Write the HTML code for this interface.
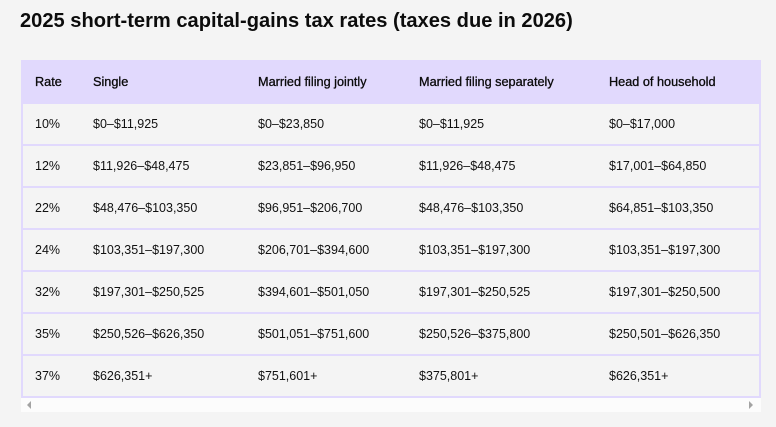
<!DOCTYPE html>
<html><head><meta charset="utf-8"><style>
*{margin:0;padding:0;box-sizing:border-box}
html,body{width:776px;height:427px;background:#f4f4f4;overflow:hidden;font-family:"Liberation Sans",Arial,sans-serif;color:#111}
.title{position:absolute;left:20px;top:8px;font-size:20.1px;font-weight:bold;line-height:26px;white-space:nowrap;color:#0c0c0c}
.hdr{position:absolute;left:21px;top:60px;width:740px;height:44px;background:#e1d9fd}
.body{position:absolute;left:21px;top:104px;width:740px;height:294px;border-left:2px solid #e1d9fd;border-right:2px solid #e1d9fd}
.row{position:absolute;left:0;width:736px;height:42px;border-bottom:2px solid #e1d9fd}
.c{position:absolute;white-space:nowrap;font-size:12.5px;line-height:40px}
.h .c{line-height:44px;font-size:12.7px;color:#0a0a0a;-webkit-text-stroke:0.3px #0a0a0a}
.sb{position:absolute;left:21px;top:398px;width:740px;height:14px;background:#fcfcfc}
.al{position:absolute;left:6px;top:3px;width:0;height:0;border-top:4px solid transparent;border-bottom:4px solid transparent;border-right:4px solid #a3a3a3}
.ar{position:absolute;right:8px;top:3px;width:0;height:0;border-top:4px solid transparent;border-bottom:4px solid transparent;border-left:4px solid #a3a3a3}
</style></head><body>
<div class="title">2025 short-term capital-gains tax rates (taxes due in 2026)</div>
<div class="hdr h">
<div class="c" style="left:14px">Rate</div>
<div class="c" style="left:72px">Single</div>
<div class="c" style="left:237px">Married filing jointly</div>
<div class="c" style="left:398px">Married filing separately</div>
<div class="c" style="left:588px">Head of household</div>
</div>
<div class="body">
<div class="row" style="top:0">
<div class="c" style="left:12px">10%</div><div class="c" style="left:70px">$0–$11,925</div><div class="c" style="left:235px">$0–$23,850</div><div class="c" style="left:396px">$0–$11,925</div><div class="c" style="left:586px">$0–$17,000</div></div>
<div class="row" style="top:42px">
<div class="c" style="left:12px">12%</div><div class="c" style="left:70px">$11,926–$48,475</div><div class="c" style="left:235px">$23,851–$96,950</div><div class="c" style="left:396px">$11,926–$48,475</div><div class="c" style="left:586px">$17,001–$64,850</div></div>
<div class="row" style="top:84px">
<div class="c" style="left:12px">22%</div><div class="c" style="left:70px">$48,476–$103,350</div><div class="c" style="left:235px">$96,951–$206,700</div><div class="c" style="left:396px">$48,476–$103,350</div><div class="c" style="left:586px">$64,851–$103,350</div></div>
<div class="row" style="top:126px">
<div class="c" style="left:12px">24%</div><div class="c" style="left:70px">$103,351–$197,300</div><div class="c" style="left:235px">$206,701–$394,600</div><div class="c" style="left:396px">$103,351–$197,300</div><div class="c" style="left:586px">$103,351–$197,300</div></div>
<div class="row" style="top:168px">
<div class="c" style="left:12px">32%</div><div class="c" style="left:70px">$197,301–$250,525</div><div class="c" style="left:235px">$394,601–$501,050</div><div class="c" style="left:396px">$197,301–$250,525</div><div class="c" style="left:586px">$197,301–$250,500</div></div>
<div class="row" style="top:210px">
<div class="c" style="left:12px">35%</div><div class="c" style="left:70px">$250,526–$626,350</div><div class="c" style="left:235px">$501,051–$751,600</div><div class="c" style="left:396px">$250,526–$375,800</div><div class="c" style="left:586px">$250,501–$626,350</div></div>
<div class="row" style="top:252px">
<div class="c" style="left:12px">37%</div><div class="c" style="left:70px">$626,351+</div><div class="c" style="left:235px">$751,601+</div><div class="c" style="left:396px">$375,801+</div><div class="c" style="left:586px">$626,351+</div></div>
</div>
<div class="sb"><div class="al"></div><div class="ar"></div></div>
</body></html>
